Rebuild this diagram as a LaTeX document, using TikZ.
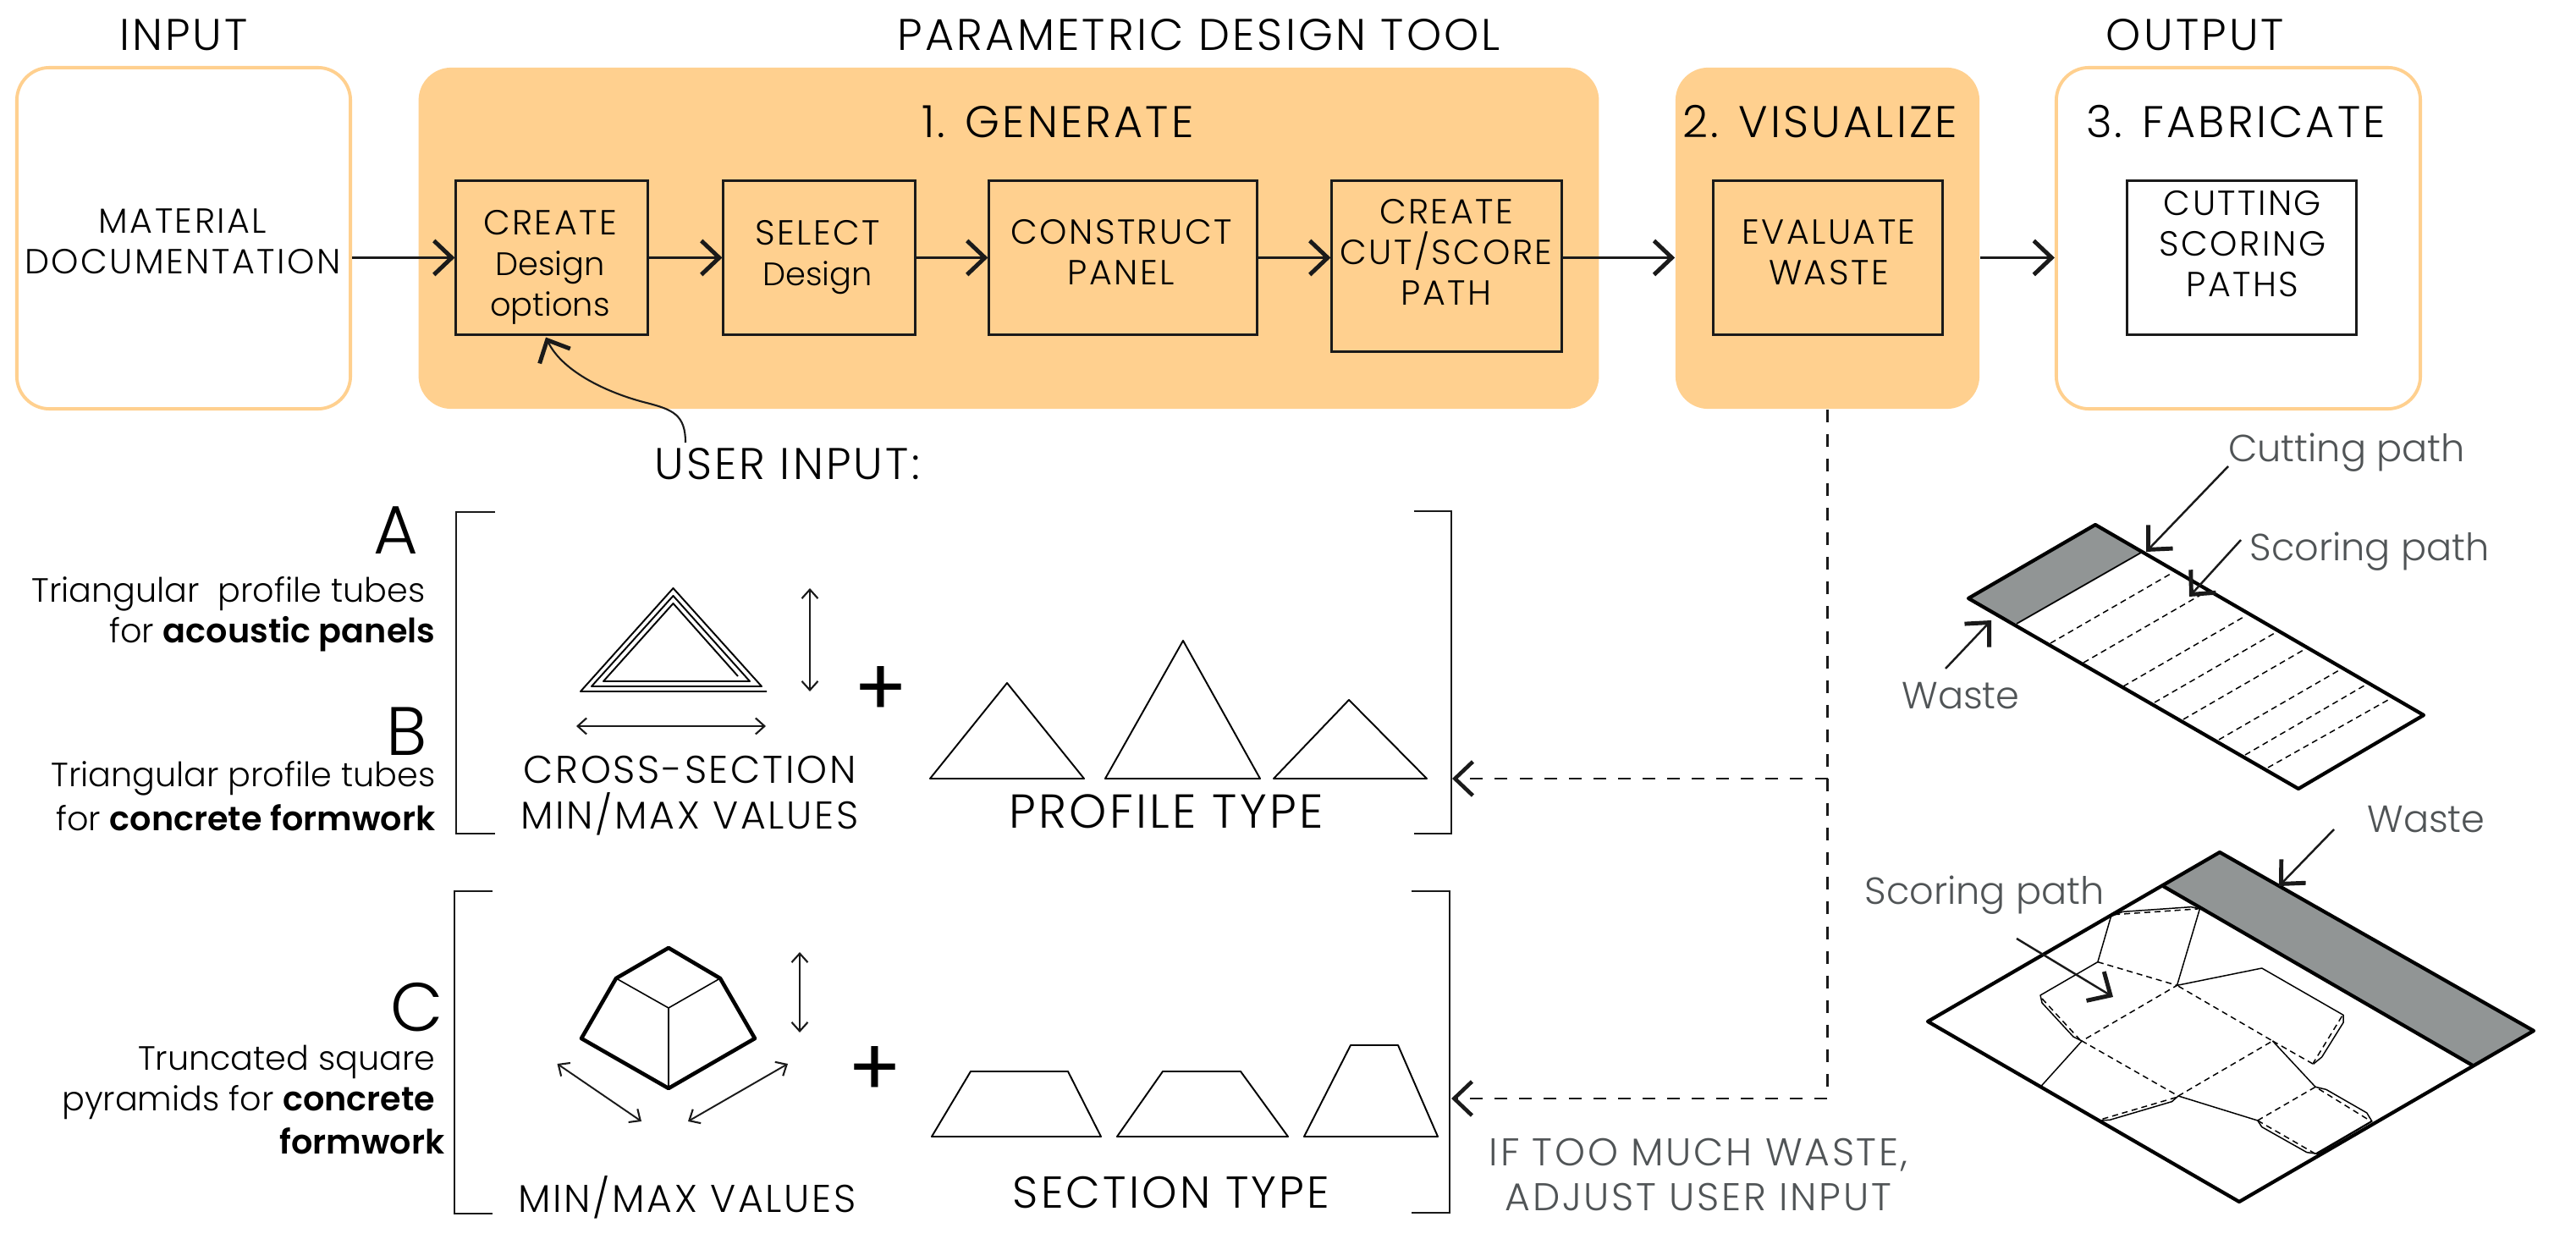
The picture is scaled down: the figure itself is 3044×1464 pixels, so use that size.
\documentclass[tikz,border=0pt]{standalone}
\usepackage{fontspec}
\setmainfont{Poppins}[UprightFont=* Light,BoldFont=* SemiBold]
\newfontfamily\capsf{Poppins}[UprightFont=* Light,BoldFont=* SemiBold,LetterSpace=6]
\newfontfamily\plusf{Poppins}
\usetikzlibrary{arrows.meta,calc}
\definecolor{orangefill}{HTML}{FFD08F}
\definecolor{inkc}{HTML}{1A1A1A}
\definecolor{greyt}{HTML}{505456}
\definecolor{wastec}{HTML}{919595}
\newcommand{\lc}[1]{{\normalfont\fontsize{10.9}{13.7}\selectfont #1}}
\tikzset{
  x=0.01cm,y=-0.01cm,
  panelfill/.style={fill=orangefill,rounded corners=11pt,inner sep=0pt},
  paneline/.style={draw=orangefill,fill=white,line width=1.1pt,rounded corners=11pt,inner sep=0pt},
  stepbox/.style={draw=inkc,line width=0.85pt,inner sep=0pt},
  boxtxt/.style={font=\capsf\fontsize{11.7}{13.7}\selectfont,align=center,text=black,inner sep=0pt},
  titletxt/.style={font=\capsf\fontsize{14.9}{17}\selectfont,align=center,text=black,inner sep=0pt},
  captxt/.style={font=\capsf\fontsize{13}{15.2}\selectfont,align=center,text=black,inner sep=0pt},
  proftxt/.style={font=\capsf\fontsize{16}{18}\selectfont,align=center,text=black,inner sep=0pt},
  secttxt/.style={font=\capsf\fontsize{15}{18}\selectfont,align=center,text=black,inner sep=0pt},
  sidetxt/.style={font=\fontsize{11.3}{13.7}\selectfont,align=right,text=black,inner sep=0pt,anchor=east},
  bigletter/.style={font=\fontsize{23}{26}\selectfont,text=black,inner sep=0pt},
  greytxt/.style={font=\fontsize{12.7}{15.2}\selectfont,align=center,text=greyt,inner sep=0pt},
  greycaps/.style={font=\capsf\fontsize{13}{15.2}\selectfont,align=center,text=greyt,inner sep=0pt},
  plustxt/.style={font=\plusf\fontsize{27}{27}\selectfont,text=black,inner sep=0pt},
  arr/.style={draw=inkc,line width=0.7pt,-{Straight Barb[length=6pt,width=11.4pt,line width=1.4pt]}},
  dasharr/.style={draw=inkc,line width=0.7pt,dash pattern=on 4.27pt off 4pt,-{Straight Barb[length=6pt,width=11.4pt,line width=1.3pt,sep=0pt]}},
  dimarr/.style={draw=inkc,line width=0.55pt,{Straight Barb[length=3pt,width=5.4pt,line width=.6pt]}-{Straight Barb[length=3pt,width=5.4pt,line width=.6pt]}},
  bracketl/.style={draw=inkc,line width=0.7pt},
  thinl/.style={draw=black,line width=0.55pt,line join=round},
  thickl/.style={draw=black,line width=1.3pt,line join=round},
  sheet/.style={draw=black,line width=1.2pt,line join=round},
  netsolid/.style={draw=black,line width=0.42pt,line join=round},
  netdash/.style={draw=black,line width=0.42pt,dash pattern=on 2pt off 1.4pt},
}
\begin{document}
\begin{tikzpicture}
\useasboundingbox (0,0) rectangle (3044,1464);
% panels
\node[paneline,minimum width=3.94cm,minimum height=4.03cm] (inputbox) at (217,281.5) {};
\node[panelfill,minimum width=13.94cm,minimum height=4.03cm] (genbox) at (1192,281.5) {};
\node[panelfill,minimum width=3.59cm,minimum height=4.03cm] (visbox) at (2159.5,281.5) {};
\node[paneline,minimum width=4.30cm,minimum height=4.03cm] (outbox) at (2645,281.5) {};
% steps
\node[stepbox,minimum width=2.26cm,minimum height=1.81cm] (create) at (652,304.5) {};
\node[stepbox,minimum width=2.26cm,minimum height=1.81cm] (select) at (968,304.5) {};
\node[stepbox,minimum width=3.16cm,minimum height=1.81cm] (construct) at (1327,304.5) {};
\node[stepbox,minimum width=2.71cm,minimum height=2.01cm] (cutpath) at (1709.5,314.5) {};
\node[stepbox,minimum width=2.70cm,minimum height=1.81cm] (evaluate) at (2160,304.5) {};
\node[stepbox,minimum width=2.70cm,minimum height=1.81cm] (cutscore) at (2649,304.5) {};
% headings
\node[titletxt] (hinput) at (217,41) {INPUT};
\node[titletxt] (htool) at (1417,41) {PARAMETRIC DESIGN TOOL};
\node[titletxt] (houtput) at (2594,41) {OUTPUT};
\node[titletxt] (hgen) at (1250,144) {1. GENERATE};
\node[titletxt] (hvis) at (2151,144) {2. VISUALIZE};
\node[titletxt] (hfab) at (2642,144) {3. FABRICATE};
% box text
\node[boxtxt] (tmat) at (216,285) {MATERIAL\\DOCUMENTATION};
\node[boxtxt] (tcreate) at (650,316) {CREATE\\\lc{Design}\\\lc{options}};
\node[boxtxt] (tselect) at (966,304) {SELECT\\\lc{Design}};
\node[boxtxt] (tconstruct) at (1325,298) {CONSTRUCT\\PANEL};
\node[boxtxt] (tcut) at (1709,298) {CREATE\\CUT/SCORE\\PATH};
\node[boxtxt] (teval) at (2161,298) {EVALUATE\\WASTE};
\node[boxtxt] (tpaths) at (2650,288) {CUTTING\\SCORING\\PATHS};
% flow arrows
\draw[arr] (inputbox.east |- create.west) -- (create.west);
\draw[arr] (create.east) -- (select.west);
\draw[arr] (select.east) -- (construct.west);
\draw[arr] (construct.east) -- (cutpath.west |- construct.east);
\draw[arr] (cutpath.east |- create.east) -- (visbox.west |- create.east);
\draw[arr] (visbox.east |- create.east) -- (outbox.west |- create.east);
% user input
\node[titletxt] (userin) at (930,548) {USER INPUT:};
\coordinate (curvestart) at (810,523);
\draw[arr,line width=0.6pt] (curvestart) .. controls (810,490) and (795,484) .. (764,476) .. controls (720,465) and (665,440) .. ($(create.south)+(-7,2)$);
% side labels
\node[bigletter] (la) at (468,627) {A};
\node[sidetxt] (ta1) at (503,702) {Triangular\ \ profile tubes};
\node[sidetxt] (ta2) at (515,749) {for \textbf{acoustic panels}};
\node[bigletter] (lb) at (481,864) {B};
\node[sidetxt] (tb1) at (515,920) {Triangular profile tubes};
\node[sidetxt] (tb2) at (515,966) {for \textbf{concrete formwork}};
\node[bigletter] (lc) at (493,1190) {C};
\node[sidetxt] (tc1) at (515,1255) {Truncated square};
\node[sidetxt] (tc2) at (515,1303) {pyramids for \textbf{concrete}};
\node[sidetxt] (tc3) at (526,1348) {\textbf{formwork}};
% brackets
\draw[bracketl] (585,605) -- (539,605) -- (539,985) -- (585,985);
\draw[bracketl] (1671,604) -- (1715,604) -- (1715,985) -- (1671,985);
\draw[bracketl] (582,1053) -- (537,1053) -- (537,1434) -- (582,1434);
\draw[bracketl] (1668,1053) -- (1713,1053) -- (1713,1433) -- (1668,1433);
% cross-section spiral
\draw[thinl] (906,817) -- (686,817) -- (795.5,695) -- (900,811) -- (699,811) -- (795.5,704) -- (886,805) -- (713,805) -- (795.5,713) -- (872,799);
\coordinate (hl) at (681,858); \coordinate (hr) at (905,858);
\draw[dimarr] (hl) -- (hr);
\coordinate (vt) at (957,695); \coordinate (vb) at (957,817);
\draw[dimarr] (vt) -- (vb);
\node[plustxt] (plusa) at (1041,817) {+};
\node[captxt] (tcross) at (815,940) {CROSS-SECTION\\MIN/MAX VALUES};
% profile triangles
\draw[thinl] (1190,807) -- (1099,920) -- (1281,920) -- cycle;
\draw[thinl] (1398,757) -- (1306,920) -- (1489,920) -- cycle;
\draw[thinl] (1594,827) -- (1505,920) -- (1686,920) -- cycle;
\node[proftxt] (tprof) at (1378,959) {PROFILE TYPE};
% pyramid
\draw[thickl] (790,1120) -- (728,1156) -- (687,1227) -- (790,1286) -- (892,1227) -- (851,1156) -- cycle;
\draw[thinl,line width=0.45pt] (728,1156) -- (790,1191) -- (851,1156) (790,1191) -- (790,1286);
\coordinate (pvt) at (945,1125); \coordinate (pvb) at (945,1220);
\draw[dimarr] (pvt) -- (pvb);
\coordinate (pla) at (658.5,1257); \coordinate (plb) at (758,1325);
\draw[dimarr] (pla) -- (plb);
\coordinate (pra) at (813,1325); \coordinate (prb) at (931,1257);
\draw[dimarr] (pra) -- (prb);
\node[plustxt] (plusb) at (1034,1266) {+};
\node[captxt] (tminmax) at (812,1415) {MIN/MAX VALUES};
% trapezoids
\draw[thinl] (1147,1266) -- (1262,1266) -- (1301,1343) -- (1101,1343) -- cycle;
\draw[thinl] (1374,1266) -- (1466,1266) -- (1522,1343) -- (1320,1343) -- cycle;
\draw[thinl] (1596,1235) -- (1652,1235) -- (1699,1343) -- (1541,1343) -- cycle;
\node[secttxt] (tsect) at (1384,1409) {SECTION TYPE};
% feedback
\coordinate (tipa) at (1716,920);
\coordinate (tipb) at (1715,1298);
\draw[dasharr] (visbox.south) -- (visbox.south |- tipb) -- (tipb);
\draw[dasharr] (visbox.south |- tipa) -- (tipa);
\node[greycaps] (tadjust) at (2007,1388) {IF TOO MUCH WASTE,\\ADJUST USER INPUT};
% strip sheet
\fill[wastec] (2476,620) -- (2326,707) -- (2383,737) -- (2530,653) -- cycle;
\draw[netsolid,line width=.5pt] (2383,737) -- (2530,653);
\foreach \lx/\ly/\ux/\uy in {2423/760/2565/678,2462/783/2609/698,2509/811/2653/728,2546/830/2688/748,2580/850/2722/768,2622/874/2764/792,2653/892/2794/810,2680/907/2822/827}{
  \draw[netdash] (\lx,\ly) -- (\ux,\uy);
}
\draw[sheet] (2476,620) -- (2326,707) -- (2716,932) -- (2864,845) -- cycle;
\node[greytxt] (tcutp) at (2773,535) {Cutting path};
\node[greytxt] (tscorep) at (2800,652) {Scoring path};
\node[greytxt] (twastea) at (2317,822) {Waste};
\coordinate (ca) at (2633,551); \coordinate (cb) at (2536,652);
\draw[arr] (ca) -- (cb);
\coordinate (sa) at (2648,638); \coordinate (sb) at (2587,705);
\draw[arr] (sa) -- (sb);
\coordinate (wa) at (2299,790); \coordinate (wb) at (2353,733);
\draw[arr] (wa) -- (wb);
% net sheet
\fill[wastec] (2623,1007) -- (2994,1218) -- (2922,1259) -- (2556,1047) -- cycle;
\draw[sheet] (2623,1007) -- (2278,1207) -- (2646,1420) -- (2994,1218) -- cycle;
\draw[sheet] (2556,1047) -- (2922,1259);
\begin{scope}[shift={(2250,950)},xscale=0.50633,yscale=0.33333]
\draw[netsolid] (483,398) -- (452,560) (690,372) -- (637,643);
\draw[netsolid] (483,398) -- (510,382) -- (670,365) -- (690,372);
\draw[netdash] (490,392) -- (685,372);
\draw[netdash] (452,560) -- (637,643) -- (415,840) -- (640,1035) -- (860,840) -- (637,643);
\draw[netsolid] (452,560) -- (318,678) -- (322,705) -- (395,825) -- (415,840);
\draw[netdash] (322,690) -- (410,835);
\draw[netsolid] (415,840) -- (320,1000);
\draw[netsolid] (637,643) -- (835,582) -- (1025,748) -- (1025,775) -- (975,897) -- (955,922);
\draw[netdash] (1022,752) -- (955,918);
\draw[netdash] (860,840) -- (955,922);
\draw[netsolid] (860,840) -- (960,1003);
\draw[netsolid] (640,1035) -- (825,1122);
\draw[netdash] (825,1122) -- (960,1003) -- (1090,1125);
\draw[netsolid] (960,1003) -- (985,1012) -- (1080,1095) -- (1092,1125) -- (965,1240) -- (940,1235) -- (835,1145) -- (825,1122);
\draw[netdash] (825,1122) -- (960,1240);
\draw[netsolid] (960,1240) -- (1090,1125);
\draw[netsolid] (640,1035) -- (625,1055) -- (480,1120) -- (458,1122);
\draw[netdash] (635,1040) -- (460,1118);
\end{scope}
\node[greytxt] (twasteb) at (2867,968) {Waste};
\node[greytxt] (tscoreb) at (2345,1058) {Scoring path};
\coordinate (wba) at (2758,980); \coordinate (wbb) at (2693,1047);
\draw[arr] (wba) -- (wbb);
\coordinate (sba) at (2383,1109); \coordinate (sbb) at (2497,1178);
\draw[arr] (sba) -- (sbb);
\end{tikzpicture}
\end{document}
